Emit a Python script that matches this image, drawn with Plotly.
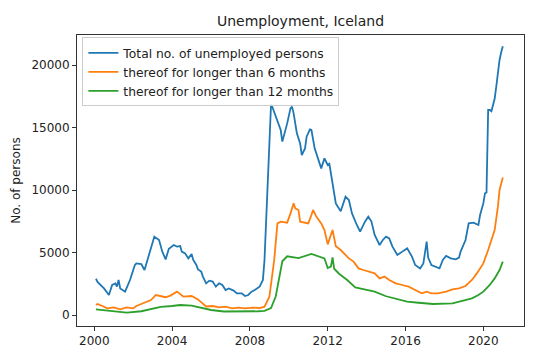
import plotly.graph_objects as go

# ---- data ----
total_dates = ["2000-02","2000-03","2000-07","2000-10","2000-12","2001-02","2001-03","2001-04","2001-05","2001-08",
    "2001-11","2002-02","2002-03","2002-06","2002-08","2002-11","2003-02","2003-05","2003-07","2003-09",
    "2003-11","2004-02","2004-04","2004-06","2004-07","2004-09","2004-11","2005-01","2005-02","2005-04",
    "2005-05","2005-07","2005-08","2005-10","2005-12","2006-02","2006-04","2006-06","2006-08","2006-10",
    "2006-12","2007-03","2007-05","2007-08","2007-10","2007-12","2008-02","2008-04","2008-07","2008-08",
    "2008-09","2008-10","2008-11","2008-12","2009-01","2009-02","2009-03","2009-06","2009-08","2009-09",
    "2009-11","2009-12","2010-02","2010-03","2010-04","2010-06","2010-08","2010-09","2010-11","2010-12",
    "2011-02","2011-03","2011-05","2011-07","2011-09","2011-11","2012-01","2012-02","2012-04","2012-06",
    "2012-09","2012-12","2013-02","2013-04","2013-07","2013-09","2013-12","2014-02","2014-04","2014-06",
    "2014-09","2014-11","2015-01","2015-03","2015-05","2015-08","2015-11","2016-02","2016-05","2016-07",
    "2016-10","2016-12","2017-02","2017-03","2017-05","2017-08","2017-10","2017-12","2018-02","2018-05",
    "2018-08","2018-10","2018-11","2019-02","2019-04","2019-07","2019-10","2019-11","2020-01","2020-02",
    "2020-03","2020-04","2020-05","2020-06","2020-08","2020-09","2020-10","2020-11","2020-12","2021-01"]
total_values = [2900,2650,2130,1600,2400,2530,2270,2800,2130,1870,
    2800,4000,4130,4080,3600,4930,6270,6000,5070,4450,
    5300,5600,5470,5520,5070,4930,4530,4880,4400,4000,
    3650,3470,3070,2530,2750,2670,2270,2530,2400,2000,
    2130,1950,1730,1730,1520,1600,1870,2000,2270,2530,
    2800,4400,7600,11000,14500,16880,16600,15600,14800,13870,
    14800,15330,16530,16670,16130,14530,13730,12800,13330,14270,
    14850,14800,13330,12530,11730,12530,12000,12100,10530,8930,
    8300,9470,9200,8130,7200,6670,7470,7870,7470,6400,
    5600,6000,6270,6130,5470,4800,5070,5330,4670,4000,
    3730,4130,5870,4600,4000,3870,3730,4400,4720,4530,
    4450,4590,5070,6000,7330,7390,7200,8000,8930,9730,
    9800,16400,16400,16300,17300,18300,19500,20400,21000,21500]

over6_dates = ["2000-02","2000-03","2000-06","2000-09","2001-01","2001-05","2001-09","2002-01","2002-03","2002-06",
    "2002-09","2002-12","2003-03","2003-06","2003-09","2003-12","2004-04","2004-08","2005-01","2005-05",
    "2005-10","2006-02","2006-06","2006-10","2007-02","2007-06","2007-10","2008-03","2008-07","2008-10",
    "2009-01","2009-04","2009-06","2009-08","2009-12","2010-02","2010-04","2010-05","2010-07","2010-08",
    "2011-01","2011-03","2011-04","2011-06","2011-09","2011-11","2012-01","2012-04","2012-06","2012-09",
    "2012-11","2013-02","2013-05","2013-08","2013-11","2014-03","2014-06","2014-09","2014-12","2015-03",
    "2015-07","2015-11","2016-03","2016-07","2016-11","2017-02","2017-05","2017-09","2018-02","2018-06",
    "2018-10","2019-02","2019-06","2019-09","2020-01","2020-04","2020-06","2020-08","2020-10","2020-11",
    "2021-01"]
over6_values = [800,880,720,530,610,450,610,530,720,880,
    990,1200,1600,1520,1420,1550,1870,1470,1520,1250,
    680,720,610,670,530,590,530,590,560,670,
    1470,4400,7330,7470,7390,8130,8930,8530,8400,7470,
    7330,8000,8400,7870,7330,6800,5650,6800,5500,5200,
    4930,4530,4270,3730,3600,3470,3330,2930,3070,2800,
    2530,2400,2270,2000,1730,1870,1730,1730,1870,2050,
    2130,2320,2800,3330,4130,5200,6000,6800,8670,10000,
    11000]

over12_dates = ["2000-02","2000-06","2001-01","2001-09","2002-06","2002-12","2003-06","2004-01","2004-06","2005-01",
    "2005-06","2006-01","2006-09","2007-06","2008-06","2008-10","2009-02","2009-05","2009-07","2009-09",
    "2009-12","2010-03","2010-07","2011-03","2011-07","2011-11","2012-01","2012-03","2012-04","2012-05",
    "2012-08","2013-01","2013-06","2014-01","2014-06","2015-01","2015-07","2016-02","2016-09","2017-06",
    "2018-06","2019-01","2019-06","2019-10","2020-01","2020-05","2020-08","2020-11","2021-01"]
over12_values = [450,400,300,190,300,450,650,720,800,750,
    600,400,280,270,300,330,550,1500,3000,4300,
    4700,4650,4550,4880,4720,4530,3750,3870,4600,3700,
    3300,2800,2200,2000,1870,1500,1330,1070,980,880,
    930,1150,1330,1600,1870,2400,2930,3600,4270]

series_names = ["Total no. of unemployed persons",
                "thereof for longer than 6 months",
                "thereof for longer than 12 months"]
series_colors = ["#1f77b4", "#ff7f0e", "#2ca02c"]

fig = go.Figure()
for name, xs, ys, col in zip(series_names,
                             [total_dates, over6_dates, over12_dates],
                             [total_values, over6_values, over12_values],
                             series_colors):
    fig.add_trace(go.Scatter(x=xs, y=ys, mode="lines", name=name,
                             line=dict(color=col, width=1.8)))

# the page body has an 8px default margin, so the figure is 8px smaller
W, H = 528, 348
font_family = "DejaVu Sans, sans-serif"
fig.update_layout(
    width=W, height=H,
    margin=dict(l=69, r=12, t=27, b=30, autoexpand=False),
    paper_bgcolor="white", plot_bgcolor="white",
    font=dict(family=font_family, size=12, color="#222222"),
    title=dict(text="Unemployment, Iceland", x=0.5, xref="paper", y=1 - 13 / H,
               yanchor="middle", xanchor="center",
               font=dict(size=14, color="#222222")),
    showlegend=True,
    legend=dict(x=0.012, y=0.992, xanchor="left", yanchor="top",
                bgcolor="rgba(255,255,255,0.85)", bordercolor="#cccccc", borderwidth=1,
                font=dict(size=12.3, color="#222222"), itemwidth=30,
                tracegroupgap=0),
)
fig.update_xaxes(
    type="date", range=["1999-02-10", "2022-02-03"],
    tick0="2000-01-01", dtick="M48", tickformat="%Y",
    showgrid=False, zeroline=False,
    showline=True, linecolor="#333333", linewidth=1, mirror=True,
    ticks="outside", ticklen=4, tickcolor="#333333",
    tickfont=dict(size=12),
)
fig.update_yaxes(
    range=[-880, 22400], tickvals=[0, 5000, 10000, 15000, 20000], tickformat="d",
    showgrid=False, zeroline=False,
    showline=True, linecolor="#333333", linewidth=1, mirror=True,
    ticks="outside", ticklen=4, tickcolor="#333333",
    tickfont=dict(size=12),
    title=dict(text="No. of persons", standoff=8, font=dict(size=12)),
)

fig.write_html("out.html")
